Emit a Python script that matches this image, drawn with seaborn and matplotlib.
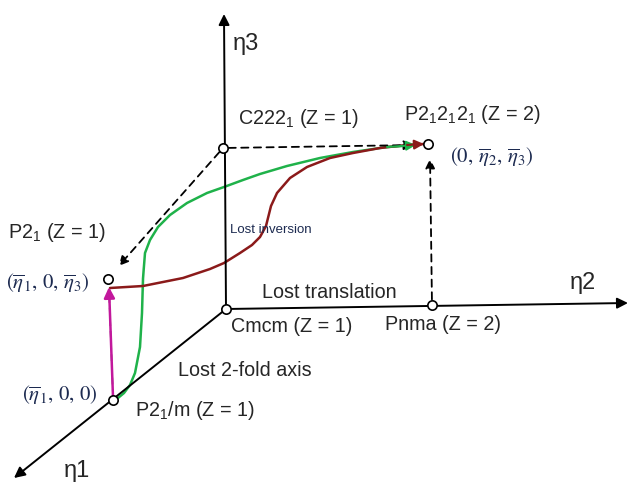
import matplotlib
matplotlib.use('Agg')
import matplotlib.pyplot as plt
import seaborn as sns
import pandas as pd

# node positions (picture pixels)
node_names = ['Cmcm', 'C2221', 'P212121', 'Pnma', 'P21', 'P21m']
node_x = [226, 223, 428, 432, 108, 113]
node_y = [309, 148, 144, 305, 279, 400]

# transition paths
green_x = [118, 124, 130, 135, 140, 142, 143, 143, 145, 150, 158, 170, 187, 207,
           224, 243, 260, 287, 320, 353, 387, 416]
green_y = [398, 393, 385, 373, 347, 313, 290, 267, 253, 240, 227, 215, 203, 193,
           187, 180, 174, 166, 158, 152, 147, 145]
red_x = [110, 143, 183, 210, 224, 240, 252, 260, 266, 269, 271, 277, 290, 307,
         330, 353, 380, 407, 424]
red_y = [288, 286, 278, 269, 263, 253, 245, 237, 226, 214, 206, 193, 178, 167,
         158, 153, 148, 145, 144]

sns.set_style('white')
plt.rcParams['font.family'] = ['Liberation Sans', 'DejaVu Sans']
plt.rcParams['mathtext.fontset'] = 'custom'
plt.rcParams['mathtext.rm'] = 'Liberation Sans'
plt.rcParams['mathtext.it'] = 'Liberation Sans:italic'
plt.rcParams['mathtext.default'] = 'rm'

fig = plt.figure(figsize=(6.32, 4.87), dpi=100)
ax = fig.add_axes([0, 0, 1, 1])
ax.set_xlim(0, 632)
ax.set_ylim(487, 0)
ax.axis('off')

ox, oy = node_x[0], node_y[0]

# coordinate axes
axis_kw = dict(arrowstyle='-|>', color='black', lw=1.4, mutation_scale=16, shrinkA=0, shrinkB=0)
ax.annotate('', xy=(224, 14), xytext=(ox, oy), arrowprops=axis_kw)
ax.annotate('', xy=(628, 303), xytext=(ox, oy), arrowprops=axis_kw)
ax.annotate('', xy=(14, 478), xytext=(ox, oy), arrowprops=axis_kw)

# dashed guides
dash_kw = dict(arrowstyle='-|>', color='black', lw=1.3, ls=(0, (4, 3)), mutation_scale=14, shrinkA=4, shrinkB=2)
ax.annotate('', xy=(416, 145), xytext=(node_x[1], node_y[1]), arrowprops=dash_kw)
ax.annotate('', xy=(117, 268), xytext=(node_x[1], node_y[1]), arrowprops=dash_kw)
ax.annotate('', xy=(430, 156), xytext=(node_x[3], node_y[3]), arrowprops=dash_kw)
ax.plot([113, 109], [396, 290], color='0.35', lw=1.2, ls=(0, (4, 3)))

# transition curves
green = pd.DataFrame({'x': green_x, 'y': green_y})
red = pd.DataFrame({'x': red_x, 'y': red_y})
sns.lineplot(data=green, x='x', y='y', sort=False, color='#1fb24a', lw=1.8, ax=ax)
sns.lineplot(data=red, x='x', y='y', sort=False, color='#8b1a1a', lw=1.8, ax=ax)
ax.annotate('', xy=(green_x[-1], green_y[-1]), xytext=(green_x[-2], green_y[-2]),
            arrowprops=dict(arrowstyle='-|>', color='#1fb24a', lw=1.5, mutation_scale=14, shrinkA=0, shrinkB=0))
ax.annotate('', xy=(red_x[-1], red_y[-1]), xytext=(red_x[-2], red_y[-2]),
            arrowprops=dict(arrowstyle='-|>', color='#8b1a1a', lw=1.5, mutation_scale=14, shrinkA=0, shrinkB=0))

# magenta step
ax.annotate('', xy=(109, 287), xytext=(113, 397),
            arrowprops=dict(arrowstyle='-|>', color='#c2189c', lw=1.8, mutation_scale=16, shrinkA=0, shrinkB=0))

# nodes
sns.scatterplot(x=node_x, y=node_y, s=45, color='white', edgecolor='black', linewidth=1.2, zorder=5, ax=ax)

fs = 14.2
ax.text(233, 44, 'η3', fontsize=17, va='center')
ax.text(570, 283, 'η2', fontsize=17, va='center')
ax.text(64, 471, 'η1', fontsize=17, va='center')

ax.text(238, 119, 'C22$2_1$ (Z = 1)', fontsize=fs, va='center')
ax.text(404, 114, 'P$2_1 2_1 2_1$ (Z = 2)', fontsize=fs, va='center')
ax.text(8, 233, 'P$2_1$ (Z = 1)', fontsize=fs, va='center')
ax.text(262, 292, 'Lost translation', fontsize=fs, va='center')
ax.text(231, 326, 'Cmcm (Z = 1)', fontsize=fs, va='center')
ax.text(385, 325, 'Pnma (Z = 2)', fontsize=fs, va='center')
ax.text(178, 370, 'Lost 2-fold axis', fontsize=fs, va='center')
ax.text(135, 410, 'P$2_1$/m (Z = 1)', fontsize=fs, va='center')
ax.text(230, 230, 'Lost inversion', fontsize=9.5, color='#1c2a50', va='center')

formula_kw = dict(fontsize=15, color='#1c2a50', va='center', math_fontfamily='stix')
ax.text(450, 157, r'$(0,\,\overline{\mathit{\eta}}_2,\,\overline{\mathit{\eta}}_3)$', **formula_kw)
ax.text(6, 283, r'$(\overline{\mathit{\eta}}_1,\,0,\,\overline{\mathit{\eta}}_3)$', **formula_kw)
ax.text(22, 395, r'$(\overline{\mathit{\eta}}_1,\,0,\,0)$', **formula_kw)

fig.savefig('out.png', dpi=100)
